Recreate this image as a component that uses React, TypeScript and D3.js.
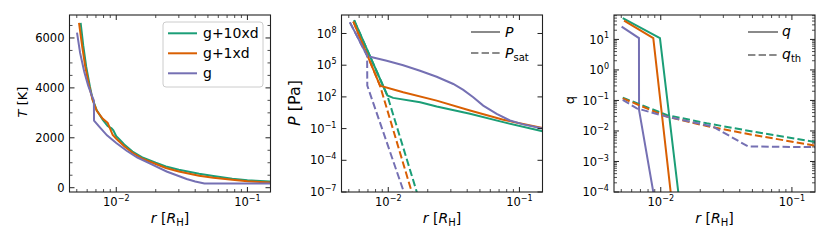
import * as d3 from "d3";

const GREEN = "#1b9e77";
const ORANGE = "#d95f02";
const PURPLE = "#7570b3";
const GREY = "#8a8a8a";

const seriesNames = ["g+10xd", "g+1xd", "g"];

// temperature panel, r in R_H, T in K
const rT_g10 = [0.00535, 0.0056, 0.0059, 0.0063, 0.0066, 0.0071, 0.0079, 0.0086, 0.0092, 0.0095, 0.01, 0.0105, 0.0115, 0.0133, 0.016, 0.02, 0.0239, 0.03, 0.0428, 0.055, 0.0766, 0.1, 0.125, 0.15];
const T_g10 = [6600, 5700, 4850, 4050, 3550, 3100, 2720, 2470, 2380, 2300, 2060, 1950, 1730, 1450, 1200, 1000, 851, 720, 560, 470, 360, 300, 265, 245];
const rT_g1 = [0.0052, 0.0055, 0.0058, 0.0062, 0.0066, 0.0071, 0.0079, 0.0086, 0.0094, 0.01, 0.0115, 0.0133, 0.016, 0.02, 0.0239, 0.03, 0.0428, 0.055, 0.0766, 0.1, 0.125, 0.15];
const T_g1 = [6600, 5650, 4850, 4100, 3520, 3080, 2760, 2600, 2110, 1960, 1660, 1400, 1150, 950, 790, 650, 480, 400, 320, 260, 225, 205];
const rT_g = [0.00502, 0.0053, 0.0057, 0.0061, 0.0065, 0.00675, 0.00677, 0.0075, 0.0085, 0.01, 0.012, 0.0145, 0.0178, 0.0242, 0.0344, 0.04, 0.047, 0.07, 0.1, 0.15];
const T_g = [6215, 5400, 4650, 4100, 3700, 3500, 2690, 2420, 2100, 1790, 1480, 1210, 985, 650, 350, 250, 170, 170, 170, 170];

// pressure panel, P and saturation pressure in Pa
const rP_g10 = [0.00549, 0.00984, 0.0109, 0.0175, 0.0234, 0.042, 0.0753, 0.15];
const P_g10 = [1.78e9, 135, 81, 31.6, 12.3, 2.5, 0.41, 0.055];
const rPsat_g10 = [0.00549, 0.00984, 0.0165, 0.0172];
const Psat_g10 = [1.78e9, 135, 1e-7, 2e-8];
const rP_g1 = [0.00542, 0.00865, 0.013, 0.0234, 0.042, 0.0753, 0.15];
const P_g1 = [1.32e9, 1170, 275, 44.7, 5.1, 0.69, 0.112];
const rPsat_g1 = [0.00542, 0.00865, 0.0151, 0.0157];
const Psat_g1 = [1.32e9, 1170, 1e-7, 2e-8];
const rP_g = [0.0051, 0.0069, 0.00726, 0.00973, 0.013, 0.01746, 0.02339, 0.03133, 0.03733, 0.04446, 0.05297, 0.06714, 0.08472, 0.1069, 0.15];
const P_g = [1.12e9, 7.8e5, 6.2e5, 2.6e5, 1.0e5, 3.0e4, 8.1e3, 1.66e3, 457, 93, 15, 2.5, 0.59, 0.25, 0.1];
const rPsat_g = [0.0051, 0.0069, 0.00692, 0.013, 0.0136];
const Psat_g = [1.12e9, 7.8e5, 1170, 1.5e-7, 2e-8];

// mixing ratio panel
const rq_g10 = [0.00513, 0.00986, 0.0136, 0.014];
const q_g10 = [49.5, 11, 1e-4, 3e-5];
const rq_g1 = [0.00525, 0.00877, 0.0119, 0.0123];
const q_g1 = [41.4, 11, 1e-4, 3e-5];
const rq_g = [0.00503, 0.00682, 0.00683, 0.00877, 0.009];
const q_g = [26.3, 11, 0.049, 1e-4, 3e-5];
const rqth = [0.00513, 0.0111, 0.0224, 0.0507, 0.15];
const qth_g10 = [0.124, 0.0335, 0.0178, 0.00955, 0.00437];
const qth_g1 = [0.117, 0.0295, 0.0145, 0.0074, 0.0033];
const rqth_g = [0.00513, 0.00656, 0.0111, 0.0251, 0.0464, 0.15];
const qth_g = [0.105, 0.055, 0.0295, 0.0138, 0.0031, 0.00295];

const xTickMajor = [0.01, 0.1];
const xTickLabels = ["\u22122", "\u22121"];
const TTicks = [0, 2000, 4000, 6000];
const PTicks = [-7, -4, -1, 2, 5, 8];
const qTicks = [-4, -3, -2, -1, 0, 1];

const W = 830;
const H = 249;
const PW = 201;
const TOP = 15;
const BOTTOM = 192;
const lefts = [69.5, 341.5, 614];
const xDomain = [0.0044, 0.15];
const FONT = "DejaVu Sans";

type Line = { r: number[]; v: number[]; color: string; dashed?: boolean };

const expLabel = (e: string, fs: number) => (
  <>
    <tspan>10</tspan>
    <tspan dy={-fs * 0.45} fontSize={fs * 0.7}>{e}</tspan>
  </>
);

function Panel({ idx, y, lines, yTicks, yMinor, yLabelFn }: {
  idx: number;
  y: any;
  lines: Line[];
  yTicks: number[];
  yMinor: number[];
  yLabelFn: (v: number) => any;
}) {
  const left = lefts[idx];
  const x = d3.scaleLog().domain(xDomain).range([left, left + PW]);
  const xMinor: number[] = [];
  for (let d = -3; d <= -1; d++) for (let k = 2; k <= 9; k++) {
    const v = k * Math.pow(10, d);
    if (v > xDomain[0] && v < xDomain[1]) xMinor.push(v);
  }
  const gen = d3.line<[number, number]>().x((d) => x(d[0])).y((d) => y(d[1]));
  const clip = `clip${idx}`;
  const tk = "#222";
  return (
    <g>
      <defs>
        <clipPath id={clip}>
          <rect x={left} y={TOP} width={PW} height={BOTTOM - TOP} />
        </clipPath>
      </defs>
      <g clipPath={`url(#${clip})`}>
        {lines.map((l, i) => (
          <path key={i} d={gen(l.r.map((r, j) => [r, l.v[j]]) as [number, number][]) || ""}
            fill="none" stroke={l.color} strokeWidth={2}
            strokeDasharray={l.dashed ? "7.4,3.2" : undefined} />
        ))}
      </g>
      {xTickMajor.map((t) => (
        <g key={t}>
          <line x1={x(t)} x2={x(t)} y1={BOTTOM} y2={BOTTOM - 5} stroke={tk} />
          <line x1={x(t)} x2={x(t)} y1={TOP} y2={TOP + 5} stroke={tk} />
        </g>
      ))}
      {xMinor.map((t) => (
        <g key={t}>
          <line x1={x(t)} x2={x(t)} y1={BOTTOM} y2={BOTTOM - 3} stroke={tk} strokeWidth={0.8} />
          <line x1={x(t)} x2={x(t)} y1={TOP} y2={TOP + 3} stroke={tk} strokeWidth={0.8} />
        </g>
      ))}
      {yTicks.map((t) => (
        <g key={t}>
          <line x1={left} x2={left + 5} y1={y(t)} y2={y(t)} stroke={tk} />
          <line x1={left + PW} x2={left + PW - 5} y1={y(t)} y2={y(t)} stroke={tk} />
          <text x={left - 5} y={y(t) + 4.2} textAnchor="end" fontSize={11.5} fontFamily={FONT}>
            {yLabelFn(t)}
          </text>
        </g>
      ))}
      {yMinor.map((t) => (
        <g key={t}>
          <line x1={left} x2={left + 3} y1={y(t)} y2={y(t)} stroke={tk} strokeWidth={0.8} />
          <line x1={left + PW} x2={left + PW - 3} y1={y(t)} y2={y(t)} stroke={tk} strokeWidth={0.8} />
        </g>
      ))}
      {xTickMajor.map((t, i) => (
        <text key={t} x={x(t)} y={206} textAnchor="middle" fontSize={11.5} fontFamily={FONT}>
          {expLabel(xTickLabels[i], 11.5)}
        </text>
      ))}
      <text x={left + PW / 2} y={223} textAnchor="middle" fontSize={14} fontFamily={FONT}>
        <tspan fontStyle="italic">r</tspan>
        <tspan>{" ["}</tspan>
        <tspan fontStyle="italic">R</tspan>
        <tspan fontSize={10} dy={3}>H</tspan>
        <tspan dy={-3}>]</tspan>
      </text>
      <rect x={left} y={TOP} width={PW} height={BOTTOM - TOP} fill="none" stroke="#222" strokeWidth={1.1} />
    </g>
  );
}

export default function App() {
  const yT = d3.scaleLinear().domain([-172, 6920]).range([BOTTOM, TOP]);
  const yP = d3.scaleLog().domain([1e-7, Math.pow(10, 9.75)]).range([BOTTOM, TOP]);
  const yq = d3.scaleLog().domain([1e-4, Math.pow(10, 1.8)]).range([BOTTOM, TOP]);

  const TMinor = d3.range(500, 7000, 500).filter((v) => v % 2000 !== 0);
  const qMinor: number[] = [];
  for (let d = -4; d <= 1; d++) for (let k = 2; k <= 9; k++) {
    const v = k * Math.pow(10, d);
    if (v < Math.pow(10, 1.8)) qMinor.push(v);
  }

  const colors = [GREEN, ORANGE, PURPLE];

  const linesT: Line[] = [
    { r: rT_g10, v: T_g10, color: GREEN },
    { r: rT_g1, v: T_g1, color: ORANGE },
    { r: rT_g, v: T_g, color: PURPLE },
  ];
  const linesP: Line[] = [
    { r: rP_g10, v: P_g10, color: GREEN },
    { r: rP_g1, v: P_g1, color: ORANGE },
    { r: rP_g, v: P_g, color: PURPLE },
    { r: rPsat_g10, v: Psat_g10, color: GREEN, dashed: true },
    { r: rPsat_g1, v: Psat_g1, color: ORANGE, dashed: true },
    { r: rPsat_g, v: Psat_g, color: PURPLE, dashed: true },
  ];
  const linesq: Line[] = [
    { r: rq_g10, v: q_g10, color: GREEN },
    { r: rq_g1, v: q_g1, color: ORANGE },
    { r: rq_g, v: q_g, color: PURPLE },
    { r: rqth, v: qth_g10, color: GREEN, dashed: true },
    { r: rqth, v: qth_g1, color: ORANGE, dashed: true },
    { r: rqth_g, v: qth_g, color: PURPLE, dashed: true },
  ];

  return (
    <svg width={W} height={H} style={{ position: "absolute", left: 0, top: 0, background: "#fff" }}
      fontFamily={FONT}>
      <Panel idx={0} y={yT} lines={linesT} yTicks={TTicks} yMinor={TMinor}
        yLabelFn={(v) => <tspan>{v}</tspan>} />
      <Panel idx={1} y={yP} lines={linesP} yTicks={PTicks.map((e) => Math.pow(10, e))} yMinor={[]}
        yLabelFn={(v) => expLabel(String(Math.round(Math.log10(v))).replace("-", "\u2212"), 11.5)} />
      <Panel idx={2} y={yq} lines={linesq} yTicks={qTicks.map((e) => Math.pow(10, e))} yMinor={qMinor}
        yLabelFn={(v) => expLabel(String(Math.round(Math.log10(v))).replace("-", "\u2212"), 11.5)} />

      {/* y labels */}
      <text transform="translate(27,102) rotate(-90)" textAnchor="middle" fontSize={13}>
        <tspan fontStyle="italic">T</tspan>
        <tspan>{" [K]"}</tspan>
      </text>
      <text transform="translate(300,103) rotate(-90)" textAnchor="middle" fontSize={16}>
        <tspan fontStyle="italic">P</tspan>
        <tspan>{" [Pa]"}</tspan>
      </text>
      <text transform="translate(574,100) rotate(-90)" textAnchor="middle" fontSize={13}>q</text>

      {/* legend, panel 1 */}
      <rect x={163} y={22} width={100} height={65} rx={3} fill="#fff" fillOpacity={0.8} stroke="#ccc" />
      {seriesNames.map((n, i) => (
        <g key={n}>
          <line x1={168} x2={197} y1={33.3 + i * 20} y2={33.3 + i * 20} stroke={colors[i]} strokeWidth={2} />
          <text x={203} y={33.3 + i * 20 + 5} fontSize={14}>{n}</text>
        </g>
      ))}

      {/* legend, panel 2 */}
      <line x1={471} x2={500} y1={32} y2={32} stroke={GREY} strokeWidth={2} />
      <text x={505} y={37} fontSize={14}><tspan fontStyle="italic">P</tspan></text>
      <line x1={471} x2={500} y1={53} y2={53} stroke={GREY} strokeWidth={2} strokeDasharray="7.4,3.2" />
      <text x={505} y={58} fontSize={14}>
        <tspan fontStyle="italic">P</tspan>
        <tspan fontSize={10} dy={3}>sat</tspan>
      </text>

      {/* legend, panel 3 */}
      <line x1={748} x2={778} y1={32} y2={32} stroke={GREY} strokeWidth={2} />
      <text x={782} y={36} fontSize={14}><tspan fontStyle="italic">q</tspan></text>
      <line x1={748} x2={778} y1={55} y2={55} stroke={GREY} strokeWidth={2} strokeDasharray="7.4,3.2" />
      <text x={782} y={59} fontSize={14}>
        <tspan fontStyle="italic">q</tspan>
        <tspan fontSize={10} dy={3}>th</tspan>
      </text>
    </svg>
  );
}
